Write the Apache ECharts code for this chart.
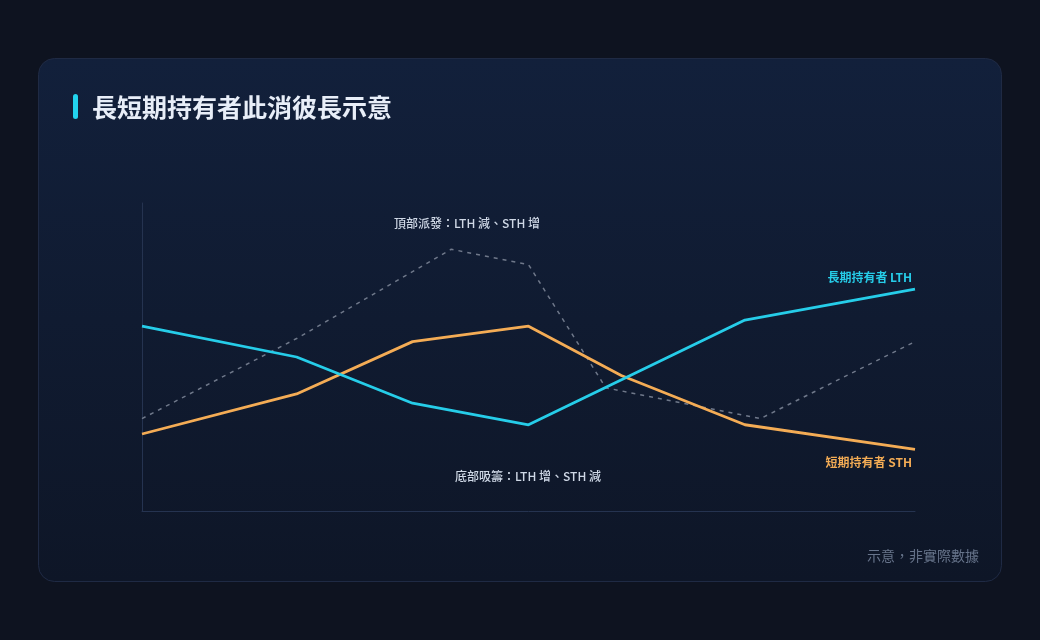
<!DOCTYPE html>
<html>
<head>
<meta charset="utf-8">
<script src="https://cdn.jsdelivr.net/npm/echarts@6/dist/echarts.min.js"></script>
<style>
html,body{margin:0;padding:0;background:#0e1320;}
#c{width:1040px;height:640px;}
</style>
</head>
<body>
<div id="c"></div>
<script>
// ---- data ----
const lthX = [0, 20, 35, 50, 78, 100];
const lthY = [60, 50, 35, 28, 62, 72];
const sthX = [0, 20, 35, 50, 62, 78, 100];
const sthY = [25, 38, 55, 60, 44, 28, 20];
const priceX = [0, 20, 40, 50, 60, 80, 100];
const priceY = [30, 56, 85, 80, 40, 30, 55];
const lthName = '長期持有者 LTH';
const sthName = '短期持有者 STH';
const titleText = '長短期持有者此消彼長示意';
const topNote = '頂部派發：LTH 減、STH 增';
const bottomNote = '底部吸籌：LTH 增、STH 減';
const footNote = '示意，非實際數據';

const FONT = '"Noto Sans CJK TC", "Noto Sans", sans-serif';
const CYAN = '#26cde9';
const ORANGE = '#f4ac55';

function pairs(xs, ys) {
  return xs.map((x, i) => [x, ys[i]]);
}
function endMark(xs, ys, name, color, pos, dist) {
  const n = xs.length - 1;
  return {
    symbol: 'circle', symbolSize: 0, silent: true,
    data: [{ coord: [xs[n], ys[n]] }],
    label: {
      show: true, position: pos, align: 'right', offset: [-3, 0], distance: dist,
      formatter: name, color: color, fontSize: 12, fontWeight: 600, fontFamily: FONT
    }
  };
}

const chart = echarts.init(document.getElementById('c'), null, { renderer: 'canvas' });
chart.setOption({
  backgroundColor: '#0e1320',
  animation: false,
  textStyle: { fontFamily: FONT },
  graphic: [
    {
      type: 'rect', z: -10,
      shape: { x: 38.5, y: 58.5, width: 963, height: 523, r: 16 },
      style: {
        fill: new echarts.graphic.LinearGradient(0, 0, 0, 1, [
          { offset: 0, color: '#12203b' },
          { offset: 1, color: '#0e1627' }
        ]),
        stroke: '#1f2a44', lineWidth: 1
      }
    },
    {
      type: 'rect',
      shape: { x: 73, y: 94, width: 5, height: 25, r: 2.5 },
      style: { fill: '#22d3ee' }
    },
    {
      type: 'text', x: 92, y: 107,
      style: {
        text: titleText, fill: '#e8eef8', font: 'bold 25px ' + FONT,
        verticalAlign: 'middle'
      }
    },
    {
      type: 'text', x: 467, y: 223,
      style: {
        text: topNote, fill: '#cfd8e6', font: '500 12px ' + FONT,
        align: 'center', verticalAlign: 'middle'
      }
    },
    {
      type: 'text', x: 528, y: 476,
      style: {
        text: bottomNote, fill: '#cfd8e6', font: '500 12px ' + FONT,
        align: 'center', verticalAlign: 'middle'
      }
    },
    {
      type: 'text', x: 979, y: 556,
      style: {
        text: footNote, fill: '#67748b', font: '14px ' + FONT,
        align: 'right', verticalAlign: 'middle'
      }
    }
  ],
  grid: { left: 142, right: 125, top: 203, bottom: 129 },
  xAxis: {
    type: 'value', min: 0, max: 100,
    axisLine: { show: true, lineStyle: { color: '#253350', width: 1 } },
    axisTick: { show: false }, axisLabel: { show: false }, splitLine: { show: false }
  },
  yAxis: {
    type: 'value', min: 0, max: 100,
    axisLine: { show: true, lineStyle: { color: '#253350', width: 1 } },
    axisTick: { show: false }, axisLabel: { show: false }, splitLine: { show: false }
  },
  series: [
    {
      type: 'line', name: 'price', showSymbol: false, symbol: 'none', z: 1,
      data: pairs(priceX, priceY),
      lineStyle: { color: '#6f788a', width: 1.5, type: [4, 5] }
    },
    {
      type: 'line', name: sthName, symbol: 'none', z: 3,
      data: pairs(sthX, sthY),
      lineStyle: { color: ORANGE, width: 2.8 },
      markPoint: endMark(sthX, sthY, sthName, ORANGE, 'bottom', 7)
    },
    {
      type: 'line', name: lthName, symbol: 'none', z: 4,
      data: pairs(lthX, lthY),
      lineStyle: { color: CYAN, width: 2.8 },
      markPoint: endMark(lthX, lthY, lthName, CYAN, 'top', 6)
    }
  ]
});
</script>
</body>
</html>
